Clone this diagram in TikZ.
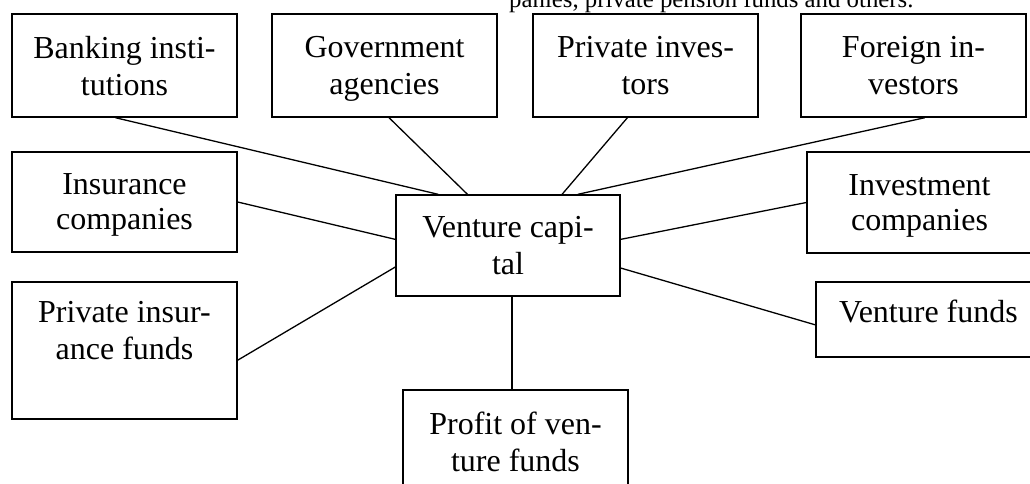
\documentclass[tikz,border=0pt]{standalone}
\usepackage{fontspec}
\setmainfont{Liberation Serif}
\usetikzlibrary{positioning, calc}

\begin{document}
\begin{tikzpicture}[x=1pt, y=-1pt, font=\fontsize{32}{37}\selectfont]
\tikzset{box/.style={align=center, shape=rectangle, draw, line width=1.4pt, inner sep=0pt, minimum width=225pt, text depth=0pt}}
\tikzset{link/.style={line width=1.3pt}}
\useasboundingbox (0, 0) rectangle (1030, 483);
\clip (0, 0) rectangle (1030, 483);
\node[anchor=base west, inner sep=0pt, font=\fontsize{24.8}{30}\selectfont] (Note) at (509, 7) {panies, private pension funds and others.};
\foreach \x/\n/\t in {124.5/Bank/{Banking insti-\\tutions}, 384.5/Gov/{Government\\agencies}, 645.5/Priv/{Private inves-\\tors}, 913.5/Foreign/{Foreign in-\\vestors}}
	\node[box, minimum height=103pt] (\n) at (\x, 65.5) {\t};
\node[box, minimum width=224pt, minimum height=101pt] (VC) at (508, 245.5) {Venture capi-\\tal};
\node[box, minimum height=100pt, font=\fontsize{32}{35}\selectfont] (Ins) at (124.5, 202) {Insurance\\companies};
\node[box, minimum height=101pt, font=\fontsize{32}{35}\selectfont] (Inv) at (919.5, 202.5) {Investment\\companies};
\node[box, minimum height=137pt, text depth=40pt] (PIns) at (124.5, 350.5) {Private insur-\\ance funds};
\node[box, minimum height=75pt, text depth=16pt] (VF) at (928.5, 319.5) {Venture funds};
\node[box, minimum height=103pt] (Profit) at (515.5, 441.5) {Profit of ven-\\ture funds};
% links to the centre box
\draw[link] ($(Bank.south west)!0.46!(Bank.south east)$) -- ($(VC.north west)!0.19!(VC.north east)$);
\draw[link] ($(Gov.south west)!0.52!(Gov.south east)$) -- ($(VC.north west)!0.32!(VC.north east)$);
\draw[link] ($(Priv.south west)!0.42!(Priv.south east)$) -- ($(VC.north west)!0.74!(VC.north east)$);
\draw[link] ($(Foreign.south west)!0.55!(Foreign.south east)$) -- ($(VC.north west)!0.81!(VC.north east)$);
\draw[link] (Ins.east) -- ($(VC.north west)!0.44!(VC.south west)$);
\draw[link] (Inv.west) -- ($(VC.north east)!0.44!(VC.south east)$);
\draw[link] ($(PIns.north east)!0.57!(PIns.south east)$) -- ($(VC.north west)!0.71!(VC.south west)$);
\draw[link] ($(VF.north west)!0.57!(VF.south west)$) -- ($(VC.north east)!0.72!(VC.south east)$);
\draw[link] ($(Profit.north west)!0.485!(Profit.north east)$) coordinate (ProfitTop) -- (ProfitTop |- VC.south);
\end{tikzpicture}
\end{document}
